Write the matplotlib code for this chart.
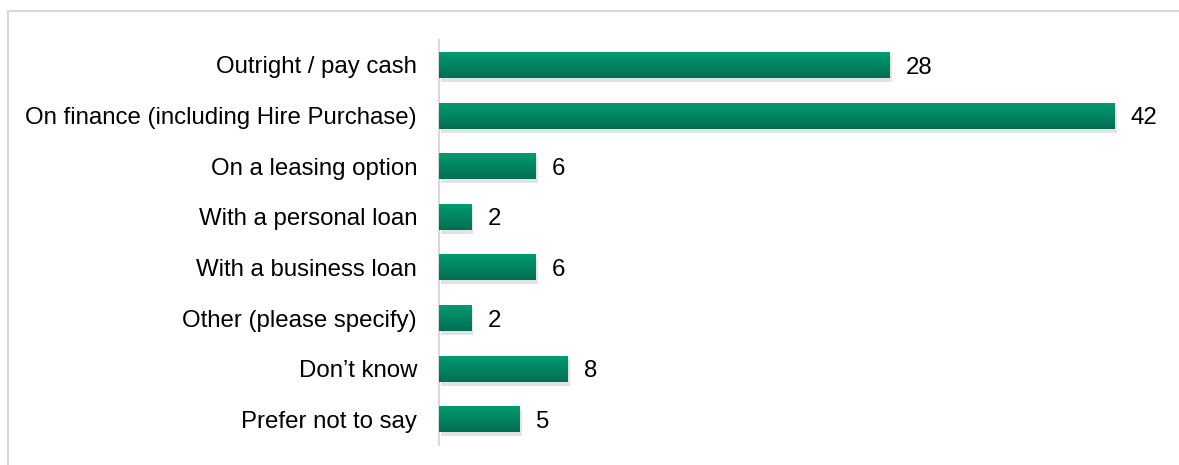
import numpy as np
import matplotlib
matplotlib.use("Agg")
import matplotlib.pyplot as plt
import matplotlib.patheffects as pe
from matplotlib.colors import LinearSegmentedColormap
from matplotlib.lines import Line2D

categories = [
    "Outright / pay cash",
    "On finance (including Hire Purchase)",
    "On a leasing option",
    "With a personal loan",
    "With a business loan",
    "Other (please specify)",
    "Don\u2019t know",
    "Prefer not to say",
]
values = [28, 42, 6, 2, 6, 2, 8, 5]

plt.rcParams["font.family"] = ["Liberation Sans", "DejaVu Sans"]

W, H = 1179, 465
fig = plt.figure(figsize=(W / 100, H / 100), dpi=100)
ax = fig.add_axes([439 / W, (H - 444.5) / H, (1163 - 439) / W, 404.8 / H])

# light frame around the chart area (top and left edges only)
grey = "#d9d9d9"
fig.add_artist(Line2D([8 / W, 1178 / W], [1 - 11 / H, 1 - 11 / H], color=grey, lw=1.5))
fig.add_artist(Line2D([8 / W, 8 / W], [1 - 11 / H, 0], color=grey, lw=1.5))

y = np.arange(len(categories))
bars = ax.barh(y, values, height=0.51, color="#008a62",
               path_effects=[pe.SimplePatchShadow(offset=(1.5, -3), shadow_rgbFace="#909090", alpha=0.25),
                             pe.Normal()], zorder=2)

# vertical gradient fill on each bar
cmap = LinearSegmentedColormap.from_list("grn", ["#009b70", "#006e53"])
grad = np.linspace(0, 1, 64).reshape(-1, 1)
for b in bars:
    x0, y0 = b.get_x(), b.get_y()
    w, h = b.get_width(), b.get_height()
    im = ax.imshow(grad, cmap=cmap, aspect="auto", extent=(x0, x0 + w, y0 + h, y0),
                   origin="upper", zorder=3, interpolation="bilinear")
    im.set_clip_path(b)

for yi, v in zip(y, values):
    ax.text(v + 1.0, yi, str(v), va="center_baseline", ha="left", fontsize=17.3, color="#000000")

ax.set_xlim(0, 45)
ax.set_ylim(len(categories) - 0.5, -0.5)
ax.set_yticks(y)
ax.set_yticklabels(categories, fontsize=17.3, color="#000000")
ax.tick_params(axis="y", length=0, pad=15.8)
ax.set_xticks([])
for s in ["top", "right", "bottom"]:
    ax.spines[s].set_visible(False)
ax.spines["left"].set_color(grey)
ax.spines["left"].set_linewidth(1.5)

fig.savefig("out.png", dpi=100)
